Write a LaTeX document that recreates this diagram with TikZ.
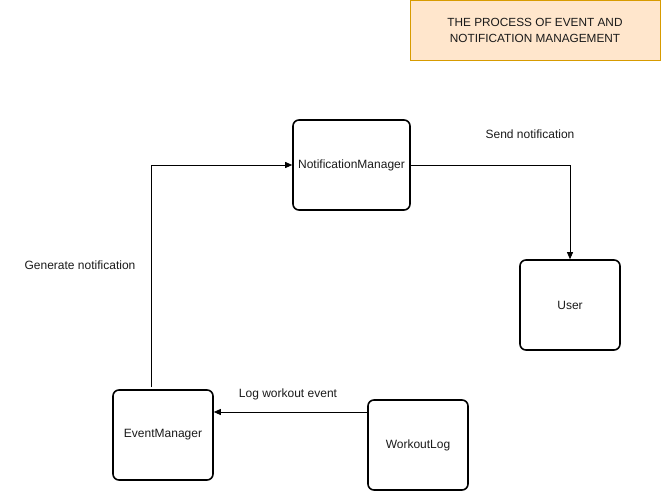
\documentclass[tikz,border=0pt]{standalone}
\usepackage{fontspec}
\setmainfont{Liberation Sans}
\usetikzlibrary{arrows.meta,positioning}
\definecolor{titlefill}{HTML}{FFE6CC}
\definecolor{titledraw}{HTML}{D79B00}
\definecolor{txt}{HTML}{1A1A1A}

\tikzset{
  block/.style={draw=black, line width=1.6pt, rounded corners=6pt, minimum width=#1, minimum height=90pt, inner sep=0pt, text=txt, font=\fontsize{12}{14}\selectfont},
  block/.default=100pt,
  flow/.style={draw=black, line width=0.8pt, -{Triangle[length=7pt,width=6pt]}},
  lbl/.style={text=txt, font=\fontsize{12}{14}\selectfont}
}

\begin{document}
\begin{tikzpicture}[x=1pt,y=-1pt]
\useasboundingbox (0,0) rectangle (661,492);
% title
\node (title) [draw=titledraw, fill=titlefill, line width=0.8pt, minimum width=250pt, minimum height=60pt, align=center, text=txt, font=\fontsize{11.8}{16}\selectfont] at (535,30) {THE PROCESS OF EVENT AND\\NOTIFICATION MANAGEMENT};
% components
\node (nm) [block=117pt] at (351.5,165) {NotificationManager};
\node (user) [block] at (570,305) {User};
\node (em) [block] at (163,435) {EventManager};
\node (wl) [block] at (418,445) {WorkoutLog};
% connectors
\coordinate (emout) at (151,387);
\draw [flow] (emout) |- (nm.west);
\draw [flow] (nm.east) -| (user.north);
\draw [flow] (wl.west |- 0,412) -- (em.east |- 0,412);
% labels
\node (gen) [lbl] at (80,265) {Generate notification};
\node (send) [lbl] at (530,134) {Send notification};
\node (log) [lbl] at (288,394) {Log workout event};
\end{tikzpicture}
\end{document}
